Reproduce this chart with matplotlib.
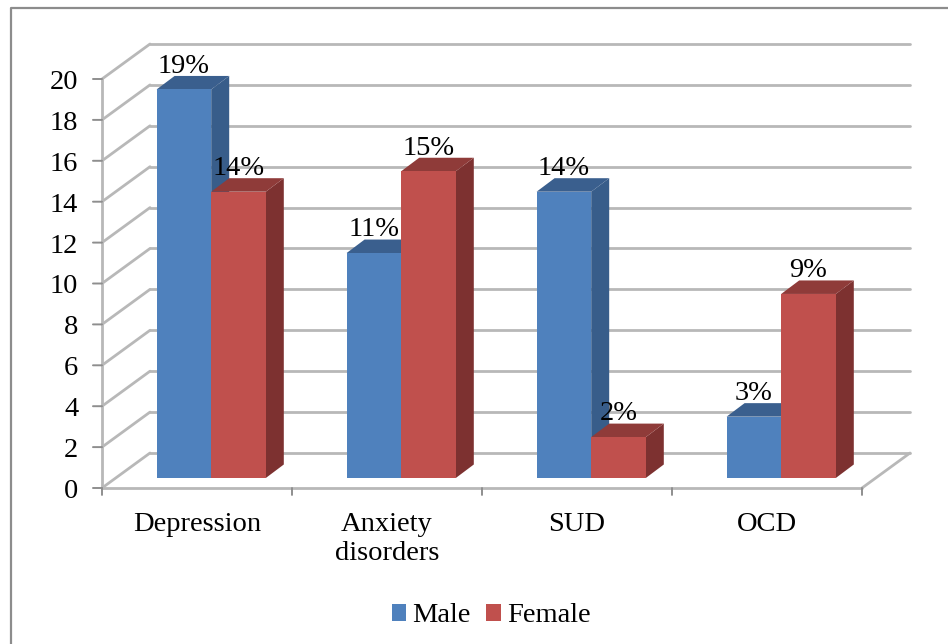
import matplotlib
matplotlib.use("Agg")
import matplotlib.pyplot as plt
from matplotlib.lines import Line2D
from matplotlib.patches import Polygon, Rectangle

categories = ["Depression", "Anxiety\ndisorders", "SUD", "OCD"]
series_names = ["Male", "Female"]
male = [19, 11, 14, 3]
female = [14, 15, 2, 9]
male_labels = ["19%", "11%", "14%", "3%"]
female_labels = ["14%", "15%", "2%", "9%"]
y_ticks = list(range(0, 21, 2))

W, H = 948, 644
plt.rcParams["font.family"] = ["Liberation Serif", "DejaVu Serif"]
fig = plt.figure(figsize=(W / 100, H / 100), dpi=100, facecolor="white")
fig.add_artist(Line2D([11 / W, 11 / W, 1], [0, 1 - 7.5 / H, 1 - 7.5 / H], transform=fig.transFigure,
                      color="#8c8c8c", linewidth=1.6))

L, R, T, B = 102, 862, 79, 488
ax = fig.add_axes([L / W, 1 - B / H, (R - L) / W, (B - T) / H])
ax.set_xlim(0, 4)
ax.set_ylim(0, 20)
ax.axis("off")

GRID = "#b8b8b8"
AXC = "#8e8e8e"
wall_dx, wall_dy = 48 / 190, 35 / 20.45
off_x, off_y = 54.6 / 190, 10 / 20.45
bar_w = 54.6 / 190
dep_x, dep_y = 18 / 190, 13.5 / 20.45
FS = 20.5

kw = dict(color=GRID, linewidth=2.0, clip_on=False, solid_capstyle="round")
for v in y_ticks:
    ax.plot([0, wall_dx], [v, v + wall_dy], zorder=1, **kw)
    ax.plot([wall_dx, 4 + wall_dx], [v + wall_dy] * 2, zorder=1, **kw)
ax.plot([4, 4 + wall_dx], [0, wall_dy], zorder=1, **kw)
ax.plot([0, 4], [0, 0], zorder=2, **kw)
ax.plot([0, 0], [0, 20], zorder=2, **kw)

for v in y_ticks:
    ax.annotate(str(v), (0, v), xytext=(-17, -2.5), textcoords="offset points", ha="right", va="center",
                fontsize=FS, annotation_clip=False)
    ax.annotate("", (0, v), xytext=(-6.5, 0), textcoords="offset points",
                arrowprops=dict(arrowstyle="-", color=AXC, lw=1.4, shrinkA=0, shrinkB=0), annotation_clip=False)
for i in range(5):
    ax.annotate("", (i, 0), xytext=(0, -5), textcoords="offset points",
                arrowprops=dict(arrowstyle="-", color=AXC, lw=1.4, shrinkA=0, shrinkB=0), annotation_clip=False)


def bar3d(x0, val, front, top, side, z):
    y0 = off_y
    y1 = off_y + val
    x1 = x0 + bar_w
    ax.add_patch(Polygon([(x1, y0), (x1 + dep_x, y0 + dep_y), (x1 + dep_x, y1 + dep_y), (x1, y1)],
                         facecolor=side, edgecolor="none", zorder=z, clip_on=False))
    ax.add_patch(Polygon([(x0, y1), (x0 + dep_x, y1 + dep_y), (x1 + dep_x, y1 + dep_y), (x1, y1)],
                         facecolor=top, edgecolor="none", zorder=z, clip_on=False))
    ax.add_patch(Rectangle((x0, y0), bar_w, val, facecolor=front, edgecolor="none", zorder=z + 0.1, clip_on=False))


BLUE = ("#4f81bd", "#3a5f8e", "#385d8a")
RED = ("#c0504d", "#8f3b39", "#7d3130")
for i in range(len(categories)):
    bar3d(i + off_x, male[i], *BLUE, 3 + i)
    bar3d(i + off_x + bar_w, female[i], *RED, 3.5 + i)
    ax.text(i + off_x + bar_w / 2, male[i] + off_y + dep_y - 0.14, male_labels[i],
            ha="center", va="bottom", fontsize=FS, zorder=20, clip_on=False)
    ax.text(i + off_x + bar_w * 1.5, female[i] + off_y + dep_y - 0.14, female_labels[i],
            ha="center", va="bottom", fontsize=FS, zorder=20, clip_on=False)
    ax.annotate(categories[i], (i + 0.5, 0), xytext=(0, -17), textcoords="offset points", ha="center", va="top",
                fontsize=FS, linespacing=1.25, annotation_clip=False)

handles = [Rectangle((0, 0), 1, 1, facecolor=BLUE[0]), Rectangle((0, 0), 1, 1, facecolor=RED[0])]
fig.legend(handles, series_names, loc="center", bbox_to_anchor=(491 / W, 1 - 616 / H), ncol=2, frameon=False,
           fontsize=FS, handlelength=0.52, handleheight=0.52, handletextpad=0.2, columnspacing=0.55)

fig.savefig("out.png", dpi=100, facecolor="white")
